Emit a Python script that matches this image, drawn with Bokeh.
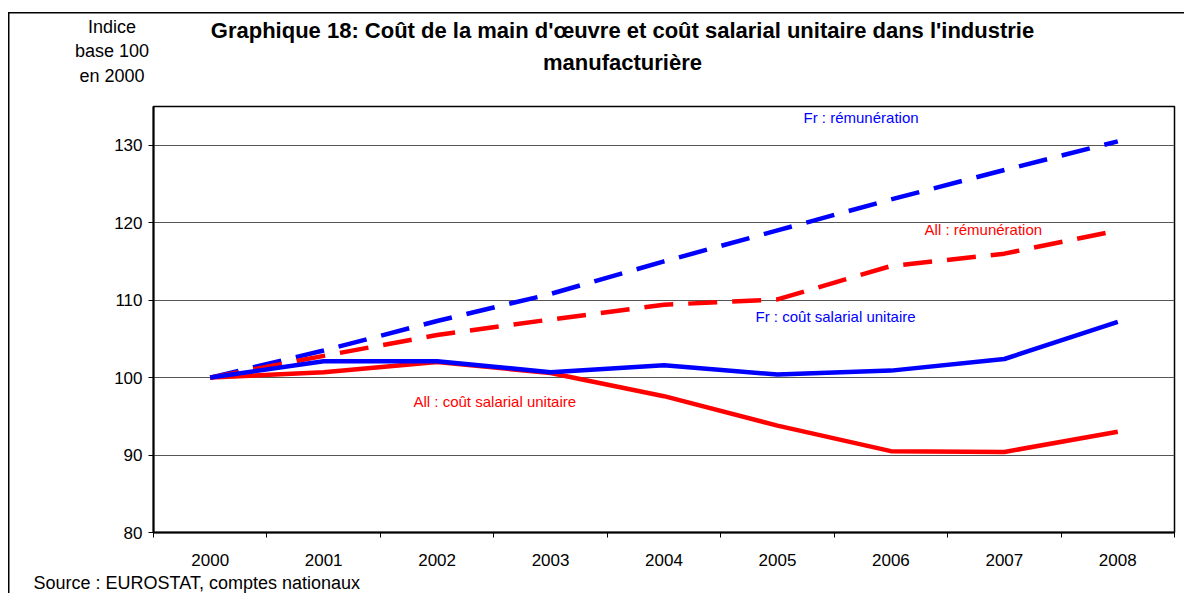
from bokeh.plotting import figure
from bokeh.models import Label, FixedTicker, Range1d
from bokeh.embed import file_html
from bokeh.resources import INLINE

years = ["2000", "2001", "2002", "2003", "2004", "2005", "2006", "2007", "2008"]
fr_remuneration = [100, 103.5, 107.3, 110.8, 115.0, 119.0, 123.0, 126.8, 130.5]
all_remuneration = [100, 102.8, 105.5, 107.5, 109.4, 110.1, 114.4, 116.0, 119.0]
fr_csu = [100, 102.1, 102.1, 100.7, 101.6, 100.4, 100.9, 102.4, 107.2]
all_csu = [100, 100.7, 102.0, 100.6, 97.6, 93.8, 90.5, 90.4, 93.0]
y_ticks = [80, 90, 100, 110, 120, 130]

BLUE = "#0000FF"
RED = "#FF0000"
FONT = "Liberation Sans, Arial, sans-serif"

xs = list(range(len(years)))

p = figure(width=1184, height=593, output_backend="svg", toolbar_location=None,
           x_range=Range1d(-0.5, len(years) - 0.5), y_range=Range1d(80, 135),
           min_border_left=153, min_border_right=10, min_border_top=106,
           min_border_bottom=61)

p.outline_line_color = "black"
p.outline_line_width = 1.5
p.background_fill_color = "white"
p.border_fill_color = None
# outer frame of the whole chart (left and top edges; the rest is cut off as in the original)
p.styles = {
    "background": "linear-gradient(#000, #000) 8px 12px / 1.5px 100% no-repeat, "
                  "linear-gradient(#000, #000) 8px 12px / 100% 1.5px no-repeat, #fff"
}

# x axis: labels at centres, small ticks at category boundaries
p.xaxis.ticker = FixedTicker(ticks=xs, minor_ticks=[i - 0.5 for i in range(len(years) + 1)])
p.xaxis.major_label_overrides = {i: y for i, y in enumerate(years)}
p.xaxis.major_tick_line_color = None
p.xaxis.major_tick_out = 0
p.xaxis.major_tick_in = 0
p.xaxis.minor_tick_line_color = "black"
p.xaxis.minor_tick_out = 5
p.xaxis.minor_tick_in = 0
p.xaxis.minor_tick_line_width = 1
p.xaxis.axis_line_width = 2
p.xaxis.axis_line_color = "black"
p.xaxis.major_label_text_font = FONT
p.xaxis.major_label_text_font_size = "17px"
p.xaxis.major_label_text_color = "black"
p.xaxis.major_label_standoff = 16

p.yaxis.ticker = FixedTicker(ticks=y_ticks)
p.yaxis.minor_tick_line_color = None
p.yaxis.major_tick_out = 5
p.yaxis.major_tick_in = 0
p.yaxis.major_tick_line_color = "black"
p.yaxis.axis_line_width = 2
p.yaxis.axis_line_color = "black"
p.yaxis.major_label_text_font = FONT
p.yaxis.major_label_text_font_size = "17px"
p.yaxis.major_label_text_color = "black"
p.yaxis.major_label_standoff = 6

p.xgrid.grid_line_color = None
p.ygrid.ticker = FixedTicker(ticks=y_ticks[1:])
p.ygrid.grid_line_color = "#555555"
p.ygrid.grid_line_width = 1

dash = "29 15"
p.line(xs, fr_remuneration, line_color=BLUE, line_width=4.5, line_dash=dash)
p.line(xs, all_remuneration, line_color=RED, line_width=4.5, line_dash=dash)
p.line(xs, all_csu, line_color=RED, line_width=4.5, line_join="round")
p.line(xs, fr_csu, line_color=BLUE, line_width=4.5, line_join="round")

def lab(x, y, text, color="black", size="16px", style="normal", align="left",
        units="data", place=None, lh=1.2):
    l = Label(x=x, y=y, text=text, text_color=color, text_font_size=size,
              text_font=FONT, text_font_style=style, x_units=units, y_units=units,
              text_align=align, text_baseline="middle", text_line_height=lh)
    if place:
        p.add_layout(l, place)
    else:
        p.add_layout(l)

# series labels (inside the plot)
lab(5.230, 133.58, "Fr : rémunération", BLUE, "15px")
lab(6.297, 119.12, "All : rémunération", RED, "15px")
lab(4.807, 107.89, "Fr : coût salarial unitaire", BLUE, "15px")
lab(1.792, 96.91, "All : coût salarial unitaire", RED, "15px")

# outside texts, placed in side panels so they are not clipped to the frame
lab(622, 46, "Graphique 18: Coût de la main d'œuvre et coût salarial unitaire dans l'industrie\nmanufacturière",
    size="22px", style="bold", align="center", units="canvas", place="above", lh=1.27)
lab(111.5, 51, "Indice\nbase 100\nen 2000", size="18px", align="center", units="canvas",
    place="left", lh=1.22)
lab(33, 582, "Source : EUROSTAT, comptes nationaux", size="18px", units="canvas", place="above")

open("out.html", "w").write(file_html(p, INLINE))
